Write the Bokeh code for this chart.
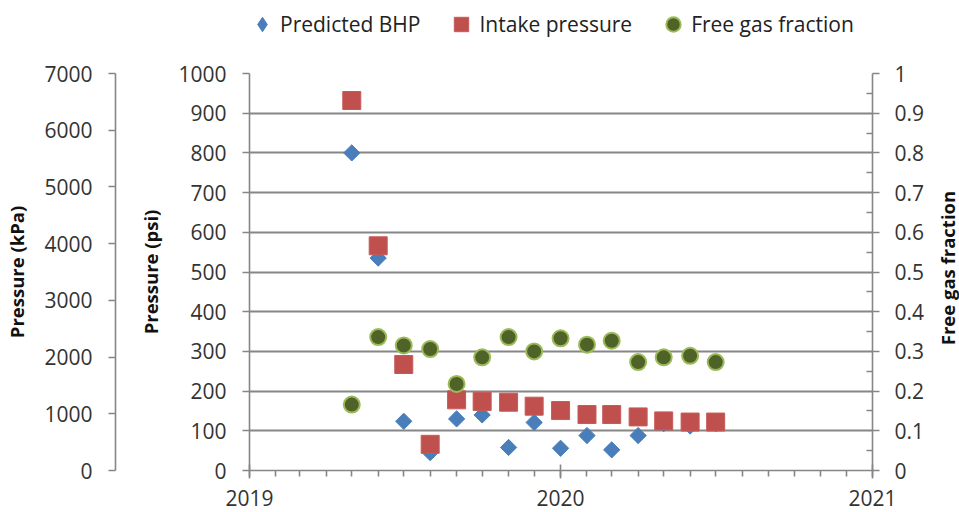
import numpy as np
import pandas as pd
from bokeh.plotting import figure
from bokeh.models import (Range1d, LinearAxis, FixedTicker, DatetimeTickFormatter,
                          Legend, LegendItem, ColumnDataSource, Label)
from bokeh.layouts import row, column
from bokeh.embed import file_html
from bokeh.resources import INLINE

# ---------------- data ----------------
dates = ["2019-05-01", "2019-06-01", "2019-07-01", "2019-08-01", "2019-09-01",
         "2019-10-01", "2019-11-01", "2019-12-01", "2020-01-01", "2020-02-01",
         "2020-03-01", "2020-04-01", "2020-05-01", "2020-06-01", "2020-07-01"]
predicted_bhp = [800, 535, 124, 45, 130, 140, 58, 121, 56, 88, 52, 88, 118, 112, 118]
intake_pressure = [932, 566, 267, 66, 178, 174, 172, 162, 151, 141, 141, 135, 125, 122, 122]
free_gas_fraction = [0.166, 0.336, 0.315, 0.306, 0.218, 0.285, 0.336, 0.300, 0.333,
                     0.317, 0.327, 0.273, 0.285, 0.289, 0.273]
series_names = ["Predicted BHP", "Intake pressure", "Free gas fraction"]

year_ticks = ["2019-01-01", "2020-01-01", "2021-01-01"]
psi_ticks = [0, 100, 200, 300, 400, 500, 600, 700, 800, 900, 1000]
kpa_ticks = [0, 1000, 2000, 3000, 4000, 5000, 6000, 7000]
frac_ticks = [0, 0.1, 0.2, 0.3, 0.4, 0.5, 0.6, 0.7, 0.8, 0.9, 1]
frac_tick_labels = ["0", "0.1", "0.2", "0.3", "0.4", "0.5", "0.6", "0.7", "0.8", "0.9", "1"]
frac_minor = [0.05, 0.15, 0.25, 0.35, 0.45, 0.55, 0.65, 0.75, 0.85, 0.95]

# ---------------- styles ----------------
FONT = "Open Sans"
TICK_FS = "21px"
TITLE_FS = "18.5px"
AX_COL = "#868686"
TXT_COL = "#333333"
GRID_COL = "#868686"
BHP_STYLE = dict(marker="square", angle=np.pi / 4, fill_color="#4A7EBB", line_color="#4A7EBB")
BHP_LEG_STYLE = dict(marker="diamond", fill_color="#4A7EBB", line_color="#4A7EBB")
INT_STYLE = dict(marker="square", fill_color="#C0504D", line_color="#C75A57", line_width=1)
GAS_STYLE = dict(marker="circle", fill_color="#4F6228", line_color="#9BBB59", line_width=2)

def ms(d):
    return pd.Timestamp(d).value / 1e6

def bare(fig):
    fig.grid.visible = False
    fig.outline_line_color = None
    fig.background_fill_color = "white"
    fig.border_fill_color = "white"

x = pd.to_datetime(dates)
src = ColumnDataSource(dict(x=x, bhp=predicted_bhp, intake=intake_pressure, frac=free_gas_fraction))

W = 959
LEG_H = 44
H = 512 - LEG_H
TOP = 73 - LEG_H
BOT = 42
K_W = 135
R_W = 27
P_W = W - K_W - R_W

# ---------------- legend strip ----------------
lg = figure(width=W, height=LEG_H, x_range=Range1d(0, 1), y_range=Range1d(0, 1),
            x_axis_location=None, y_axis_location=None, toolbar_location=None,
            output_backend="svg", min_border=0)
bare(lg)
off = ColumnDataSource(dict(x=[-5], y=[-5]))
lr1 = lg.scatter("x", "y", source=off, size=11.5, **BHP_LEG_STYLE)
lr2 = lg.scatter("x", "y", source=off, size=18, **INT_STYLE)
lr3 = lg.scatter("x", "y", source=off, size=16, **GAS_STYLE)
legend = Legend(items=[LegendItem(label=series_names[0], renderers=[lr1]),
                       LegendItem(label=series_names[1], renderers=[lr2]),
                       LegendItem(label=series_names[2], renderers=[lr3])],
                orientation="horizontal", location=(244, 2),
                glyph_width=36, glyph_height=36, label_height=36, label_standoff=0,
                spacing=23, padding=0, margin=0, border_line_color=None,
                background_fill_alpha=0, label_text_font=FONT,
                label_text_font_size=TICK_FS, label_text_color="#222222")
lg.add_layout(legend)

# ---------------- kPa axis figure ----------------
k = figure(width=K_W, height=H, x_range=Range1d(0, 1), y_range=Range1d(0, 7000),
           x_axis_location=None, toolbar_location=None, output_backend="svg",
           min_border_left=115, min_border_right=0, min_border_top=TOP, min_border_bottom=BOT)
bare(k)
ka = k.yaxis[0]
ka.ticker = FixedTicker(ticks=kpa_ticks)
ka.axis_label = "Pressure (kPa)"

# ---------------- right title strip ----------------
rt = figure(width=R_W, height=H, x_range=Range1d(0, 1), y_range=Range1d(0, 1),
            x_axis_location=None, y_axis_location=None, toolbar_location=None,
            output_backend="svg", min_border=0)
bare(rt)
rt.add_layout(Label(x=0.54, y=0.51, text="Free gas fraction", angle=np.pi / 2,
                    text_align="center", text_baseline="middle", text_font=FONT,
                    text_font_style="bold", text_font_size=TITLE_FS, text_color="#111111"))

# ---------------- main figure ----------------
p = figure(width=P_W, height=H, x_axis_type="datetime",
           x_range=Range1d(pd.Timestamp(year_ticks[0]), pd.Timestamp(year_ticks[-1])),
           y_range=Range1d(0, 1000), toolbar_location=None, output_backend="svg",
           min_border_left=110, min_border_right=P_W - (872 - K_W),
           min_border_top=TOP, min_border_bottom=BOT)
p.extra_y_ranges = {"frac": Range1d(0, 1)}
bare(p)
p.ygrid.visible = True
p.ygrid.ticker = FixedTicker(ticks=psi_ticks)
p.ygrid.grid_line_color = GRID_COL
p.ygrid.grid_line_width = 2

xa = p.xaxis[0]
month_ticks = [ms(d) for d in pd.date_range(year_ticks[0], year_ticks[-1], freq="MS")]
xa.ticker = FixedTicker(ticks=[ms(d) for d in year_ticks], minor_ticks=month_ticks)
xa.formatter = DatetimeTickFormatter(years="%Y", months="%Y", days="%Y", hours="%Y",
                                     minutes="%Y", seconds="%Y", milliseconds="%Y",
                                     microseconds="%Y", hourmin="%Y", minsec="%Y")
xa.major_tick_in = 6
xa.major_tick_out = 8
xa.minor_tick_in = 0
xa.minor_tick_out = 6
xa.major_label_standoff = 11

pa = p.yaxis[0]
pa.ticker = FixedTicker(ticks=psi_ticks)
pa.axis_label = "Pressure (psi)"

ra = LinearAxis(y_range_name="frac", ticker=FixedTicker(ticks=frac_ticks, minor_ticks=frac_minor))
ra.major_label_overrides = {t: l for t, l in zip(frac_ticks, frac_tick_labels)}
ra.minor_tick_in = 6
ra.minor_tick_out = 0
ra.major_label_standoff = 15
p.add_layout(ra, "right")

for ax in (ka, pa):
    ax.major_tick_in = 0
    ax.major_tick_out = 7
    ax.minor_tick_line_color = None
    ax.major_label_standoff = 16
    ax.axis_label_standoff = 12
    ax.axis_label_text_font = FONT
    ax.axis_label_text_font_style = "bold"
    ax.axis_label_text_font_size = TITLE_FS
    ax.axis_label_text_color = "#111111"

for ax in (ka, pa, ra, xa):
    ax.axis_line_color = AX_COL
    ax.axis_line_width = 1.6
    ax.major_tick_line_color = AX_COL
    ax.major_tick_line_width = 1.6
    ax.major_label_text_font = FONT
    ax.major_label_text_font_size = TICK_FS
    ax.major_label_text_color = TXT_COL
for ax in (ra, xa):
    ax.minor_tick_line_color = AX_COL
    ax.minor_tick_line_width = 1.6
ra.major_tick_in = 0
ra.major_tick_out = 7

# ---------------- glyphs ----------------
p.scatter("x", "bhp", source=src, size=11.5, **BHP_STYLE)
p.scatter("x", "intake", source=src, size=18, **INT_STYLE)
p.scatter("x", "frac", source=src, y_range_name="frac", size=16, **GAS_STYLE)

layout = column(lg, row(k, p, rt, spacing=0), spacing=0)
open("out.html", "w").write(file_html(layout, INLINE))
